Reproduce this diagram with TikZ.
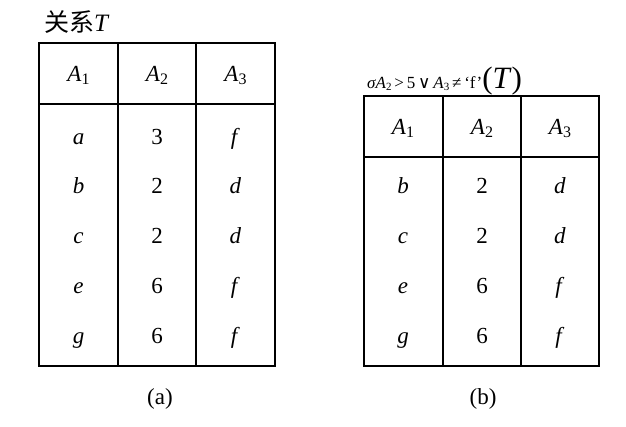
\documentclass[tikz,border=0pt]{standalone}
\usepackage{fontspec}
\setmainfont{Liberation Serif}
\newfontfamily\cjk{Noto Sans CJK SC}
\newfontfamily\symf{DejaVu Serif}
\newcommand\subd[1]{\raisebox{-0.35ex}{\fontsize{16}{16}\selectfont #1}}
\newcommand\tinysub[1]{\raisebox{-0.3ex}{\fontsize{11}{11}\selectfont #1}}
\begin{document}
\begin{tikzpicture}[x=1pt,y=-1pt,
  grid/.style={line width=1.2pt, line cap=rect},
  cell/.style={anchor=base, inner sep=0pt, font=\fontsize{23}{23}\selectfont},
  sublabel/.style={anchor=base, inner sep=0pt, font=\fontsize{23}{23}\selectfont}]
\useasboundingbox (0,0) rectangle (626,426);
% title left
\node[anchor=base west, inner sep=0pt] (tl) at (44,31) {\fontsize{25}{25}\selectfont\cjk 关系\textit{\rmfamily T}};
% left table
\draw[grid] (39,43) rectangle (275,366);
\draw[grid] (39,104) -- (275,104);
\draw[grid] (118,43) -- (118,366);
\draw[grid] (196,43) -- (196,366);
\node[cell] (la1) at (78.5,81) {\textit{A}\subd{1}};
\node[cell] (la2) at (157,81) {\textit{A}\subd{2}};
\node[cell] (la3) at (235.5,81) {\textit{A}\subd{3}};
\foreach \r/\a/\b/\c in {144/a/3/f, 193/b/2/d, 243/c/2/d, 293/e/6/f, 343/g/6/f}{
  \node[cell] (l\r a) at (78.5,\r) {\textit{\a}};
  \node[cell] (l\r b) at (157,\r) {\b};
  \node[cell] (l\r c) at (235.5,\r) {\textit{\c}};
}
\node[sublabel] (capa) at (160,404) {(a)};
% title right
\node[anchor=base west, inner sep=0pt] (tr) at (367,88)
  {{\fontsize{17}{17}\selectfont \textit{σA}\tinysub{2}\,>\,5\,{\symf ∨}\,\textit{A}\tinysub{3}\,≠\,‘f’}{\fontsize{31}{31}\selectfont(\textit{T})}};
% right table
\draw[grid] (364,96) rectangle (599,366);
\draw[grid] (364,157) -- (599,157);
\draw[grid] (443,96) -- (443,366);
\draw[grid] (521,96) -- (521,366);
\node[cell] (ra1) at (403,134) {\textit{A}\subd{1}};
\node[cell] (ra2) at (482,134) {\textit{A}\subd{2}};
\node[cell] (ra3) at (560,134) {\textit{A}\subd{3}};
\foreach \r/\a/\b/\c in {193/b/2/d, 243/c/2/d, 293/e/6/f, 343/g/6/f}{
  \node[cell] (r\r a) at (403,\r) {\textit{\a}};
  \node[cell] (r\r b) at (482,\r) {\b};
  \node[cell] (r\r c) at (560,\r) {\textit{\c}};
}
\node[sublabel] (capb) at (483,404) {(b)};
\end{tikzpicture}
\end{document}
